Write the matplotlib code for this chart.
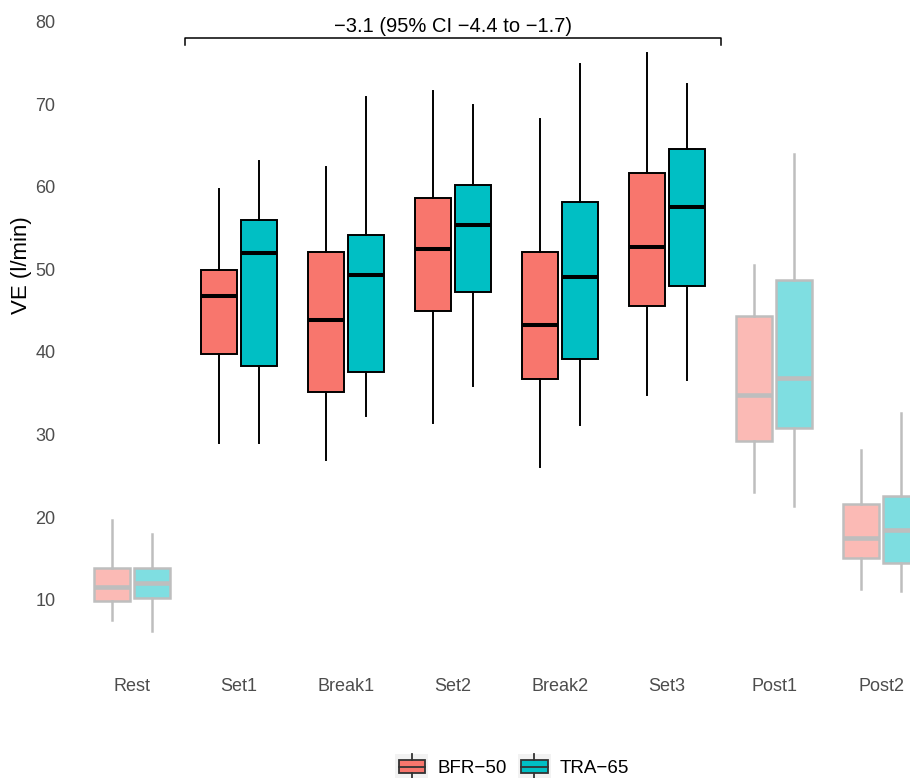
import matplotlib
matplotlib.use("Agg")
import matplotlib.pyplot as plt
from matplotlib.patches import Rectangle
from matplotlib.lines import Line2D
from matplotlib.legend_handler import HandlerBase

plt.rcParams['font.family'] = ['Liberation Sans', 'DejaVu Sans']

# Datos (l/min)
categories = ["Rest", "Set1", "Break1", "Set2", "Break2", "Set3", "Post1", "Post2"]
highlighted = [False, True, True, True, True, True, False, False]
groups = ["BFR\u221250", "TRA\u221265"]
group_colors = ["#F8766D", "#00BFC4"]

bfr_whislo = [7.5, 29.0, 26.9, 31.4, 26.1, 34.8, 23.1, 11.3]
bfr_q1 = [9.8, 39.8, 35.1, 44.9, 36.7, 45.6, 29.2, 15.0]
bfr_med = [11.5, 46.8, 43.9, 52.4, 43.3, 52.7, 34.8, 17.5]
bfr_q3 = [13.9, 49.9, 52.1, 58.6, 52.1, 61.7, 44.3, 21.6]
bfr_whishi = [19.7, 59.7, 62.4, 71.6, 68.2, 76.2, 50.5, 28.1]

tra_whislo = [6.2, 29.0, 32.2, 35.9, 31.2, 36.6, 21.4, 11.0]
tra_q1 = [10.2, 38.3, 37.6, 47.3, 39.2, 48.0, 30.8, 14.5]
tra_med = [12.0, 52.0, 49.3, 55.4, 49.1, 57.5, 36.9, 18.4]
tra_q3 = [13.9, 56.0, 54.1, 60.2, 58.1, 64.6, 48.7, 22.6]
tra_whishi = [17.9, 63.1, 70.8, 69.9, 74.9, 72.4, 64.0, 32.6]

# Diferencia estimada entre grupos
bracket_label = "\u22123.1 (95% CI \u22124.4 to \u22121.7)"
bracket_from, bracket_to = 0.5, 5.5

series = [
    (bfr_whislo, bfr_q1, bfr_med, bfr_q3, bfr_whishi),
    (tra_whislo, tra_q1, tra_med, tra_q3, tra_whishi),
]

fig = plt.figure(figsize=(9.1, 7.78), dpi=100)
ax = fig.add_axes([0.0745, 0.1495, 0.9255, 0.8505])

offsets = [-0.1875, 0.1875]
for g, (lo, q1, med, q3, hi) in enumerate(series):
    for i in range(len(categories)):
        st = [dict(whislo=lo[i], q1=q1[i], med=med[i], q3=q3[i], whishi=hi[i], fliers=[])]
        if highlighted[i]:
            ec, alpha, lw, mlw = "black", 1.0, 1.4, 2.9
        else:
            ec, alpha, lw, mlw = "#BEBEBE", 0.5, 1.8, 3.3
        ax.bxp(st, positions=[i + offsets[g]], widths=0.34, showcaps=False,
               showfliers=False, patch_artist=True,
               boxprops=dict(facecolor=matplotlib.colors.to_rgba(group_colors[g], alpha),
                             edgecolor=ec, linewidth=lw),
               medianprops=dict(color=ec, linewidth=mlw, solid_capstyle='butt'),
               whiskerprops=dict(color=ec, linewidth=lw))

# Corchete con la diferencia
ax.plot([bracket_from, bracket_from, bracket_to, bracket_to],
        [77.2, 78.06, 78.06, 77.2], color="black", lw=1.1)
ax.text((bracket_from + bracket_to) / 2, 79.4, bracket_label, ha="center",
        va="center", fontsize=14.5, color="black")

ax.set_xlim(-0.6, 7.271)
ax.set_ylim(2.5, 82.6)
ax.set_xticks(range(len(categories)))
ax.set_xticklabels(categories)
ax.set_yticks([10, 20, 30, 40, 50, 60, 70, 80])
ax.tick_params(axis="both", length=0, labelsize=13, labelcolor="#4D4D4D")
ax.tick_params(axis="x", pad=12)
ax.tick_params(axis="y", pad=9)
for s in ax.spines.values():
    s.set_visible(False)
ax.set_ylabel("VE (l/min)", fontsize=16)
ax.yaxis.set_label_coords(-0.0425, 0.6)


class BoxKey(HandlerBase):
    def create_artists(self, legend, orig_handle, xdescent, ydescent,
                       width, height, fontsize, trans):
        x0, y0 = -xdescent, -ydescent
        bg = Rectangle((x0, y0), width, height, facecolor="#F2F2F2",
                       edgecolor="none", transform=trans)
        box = Rectangle((x0 + 0.1 * width, y0 + 0.25 * height), 0.8 * width,
                        0.5 * height, facecolor=orig_handle.get_facecolor(),
                        edgecolor="#333333", lw=1.3, transform=trans)
        xm = x0 + width / 2
        med = Line2D([x0 + 0.1 * width, x0 + 0.9 * width],
                     [y0 + height / 2] * 2, color="#333333", lw=1.3, transform=trans)
        w1 = Line2D([xm, xm], [y0 + 0.75 * height, y0 + height], color="#333333",
                    lw=1.3, transform=trans)
        w2 = Line2D([xm, xm], [y0, y0 + 0.25 * height], color="#333333",
                    lw=1.3, transform=trans)
        return [bg, box, med, w1, w2]


handles = [Rectangle((0, 0), 1, 1, facecolor=c) for c in group_colors]
fig.legend(handles, groups, handler_map={Rectangle: BoxKey()}, ncol=2,
           loc="center", bbox_to_anchor=(0.563, 0.0145), frameon=False,
           fontsize=13.5, handlelength=1.76, handleheight=1.76,
           handletextpad=0.48, columnspacing=0.59, borderpad=0)

fig.savefig("out.png", dpi=100)
